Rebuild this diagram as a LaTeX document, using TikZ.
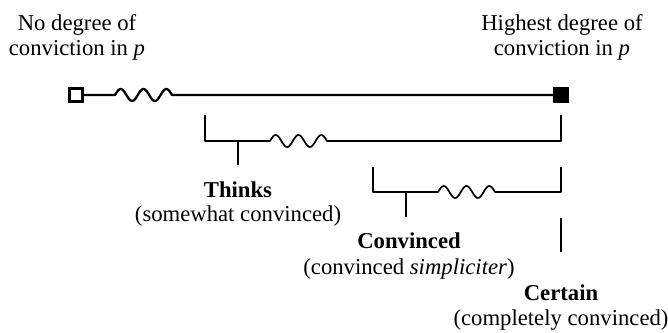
\documentclass[tikz,border=0pt]{standalone}
\usepackage{fontspec}
\setmainfont{Liberation Serif}
\begin{document}
\begin{tikzpicture}[x=1pt,y=-1pt,
  every node/.style={inner sep=0pt, outer sep=0pt, font=\fontsize{22.7}{25}\selectfont},
  lbl/.style={anchor=base},
  heavy/.style={line width=2.3pt},
  brace/.style={line width=1.7pt},
  openbox/.style={draw, line width=2.3pt, fill=white, minimum size=13pt},
  fullbox/.style={draw, line width=2.3pt, fill=black, minimum size=13pt}]
\useasboundingbox (0,0) rectangle (668,332);

% end labels of the scale
\node[lbl] (lo1) at (77,30) {No degree of};
\node[lbl] (lo2) at (77,55) {conviction in \textit{p}};
\node[lbl] (hi1) at (562,30) {Highest degree of};
\node[lbl] (hi2) at (562,55) {conviction in \textit{p}};

% the scale itself
\node[openbox] (lo) at (76,95) {};
\node[fullbox] (hi) at (561,95) {};
\coordinate (w0) at (115,95);
\draw[heavy, line join=round] (lo.east) -- (w0)
  -- plot[domain=0:1, samples=61, smooth, variable=\t] ({115+57*\t},{95-6*sin(900*\t)})
  -- (hi.west);

% range of "thinks"
\coordinate (a1) at (205,115);
\coordinate (a2) at (205,141);
\coordinate (a3) at (270,141);
\coordinate (a4) at (561,141);
\coordinate (a5) at (561,115);
\coordinate (ta) at (238,141);
\coordinate (tb) at (238,165);
\draw[brace, line join=round] (a1) -- (a2) -- (a3)
  -- plot[domain=0:1, samples=61, smooth, variable=\t] ({270+57*\t},{141-6*sin(900*\t)})
  -- (a4) -- (a5);
\draw[brace] (ta) -- (tb);
\node[lbl, font=\fontsize{22.7}{25}\selectfont\bfseries] (th) at (238,197) {Thinks};
\node[lbl] (th2) at (238,221) {(somewhat convinced)};

% range of "convinced"
\coordinate (b1) at (373,167);
\coordinate (b2) at (373,192);
\coordinate (b3) at (438,192);
\coordinate (b4) at (561,192);
\coordinate (b5) at (561,167);
\coordinate (ca) at (406,192);
\coordinate (cb) at (406,217);
\draw[brace, line join=round] (b1) -- (b2) -- (b3)
  -- plot[domain=0:1, samples=61, smooth, variable=\t] ({438+57*\t},{192-6*sin(900*\t)})
  -- (b4) -- (b5);
\draw[brace] (ca) -- (cb);
\node[lbl, font=\fontsize{22.7}{25}\selectfont\bfseries] (cv) at (409,248) {Convinced};
\node[lbl] (cv2) at (409,274) {(convinced \textit{simpliciter})};

% "certain" sits at the top of the scale
\coordinate (da) at (561,218);
\coordinate (db) at (561,252);
\draw[brace] (da) -- (db);
\node[lbl, font=\fontsize{22.7}{25}\selectfont\bfseries] (ce) at (561,300) {Certain};
\node[lbl] (ce2) at (561,325) {(completely convinced)};
\end{tikzpicture}
\end{document}
